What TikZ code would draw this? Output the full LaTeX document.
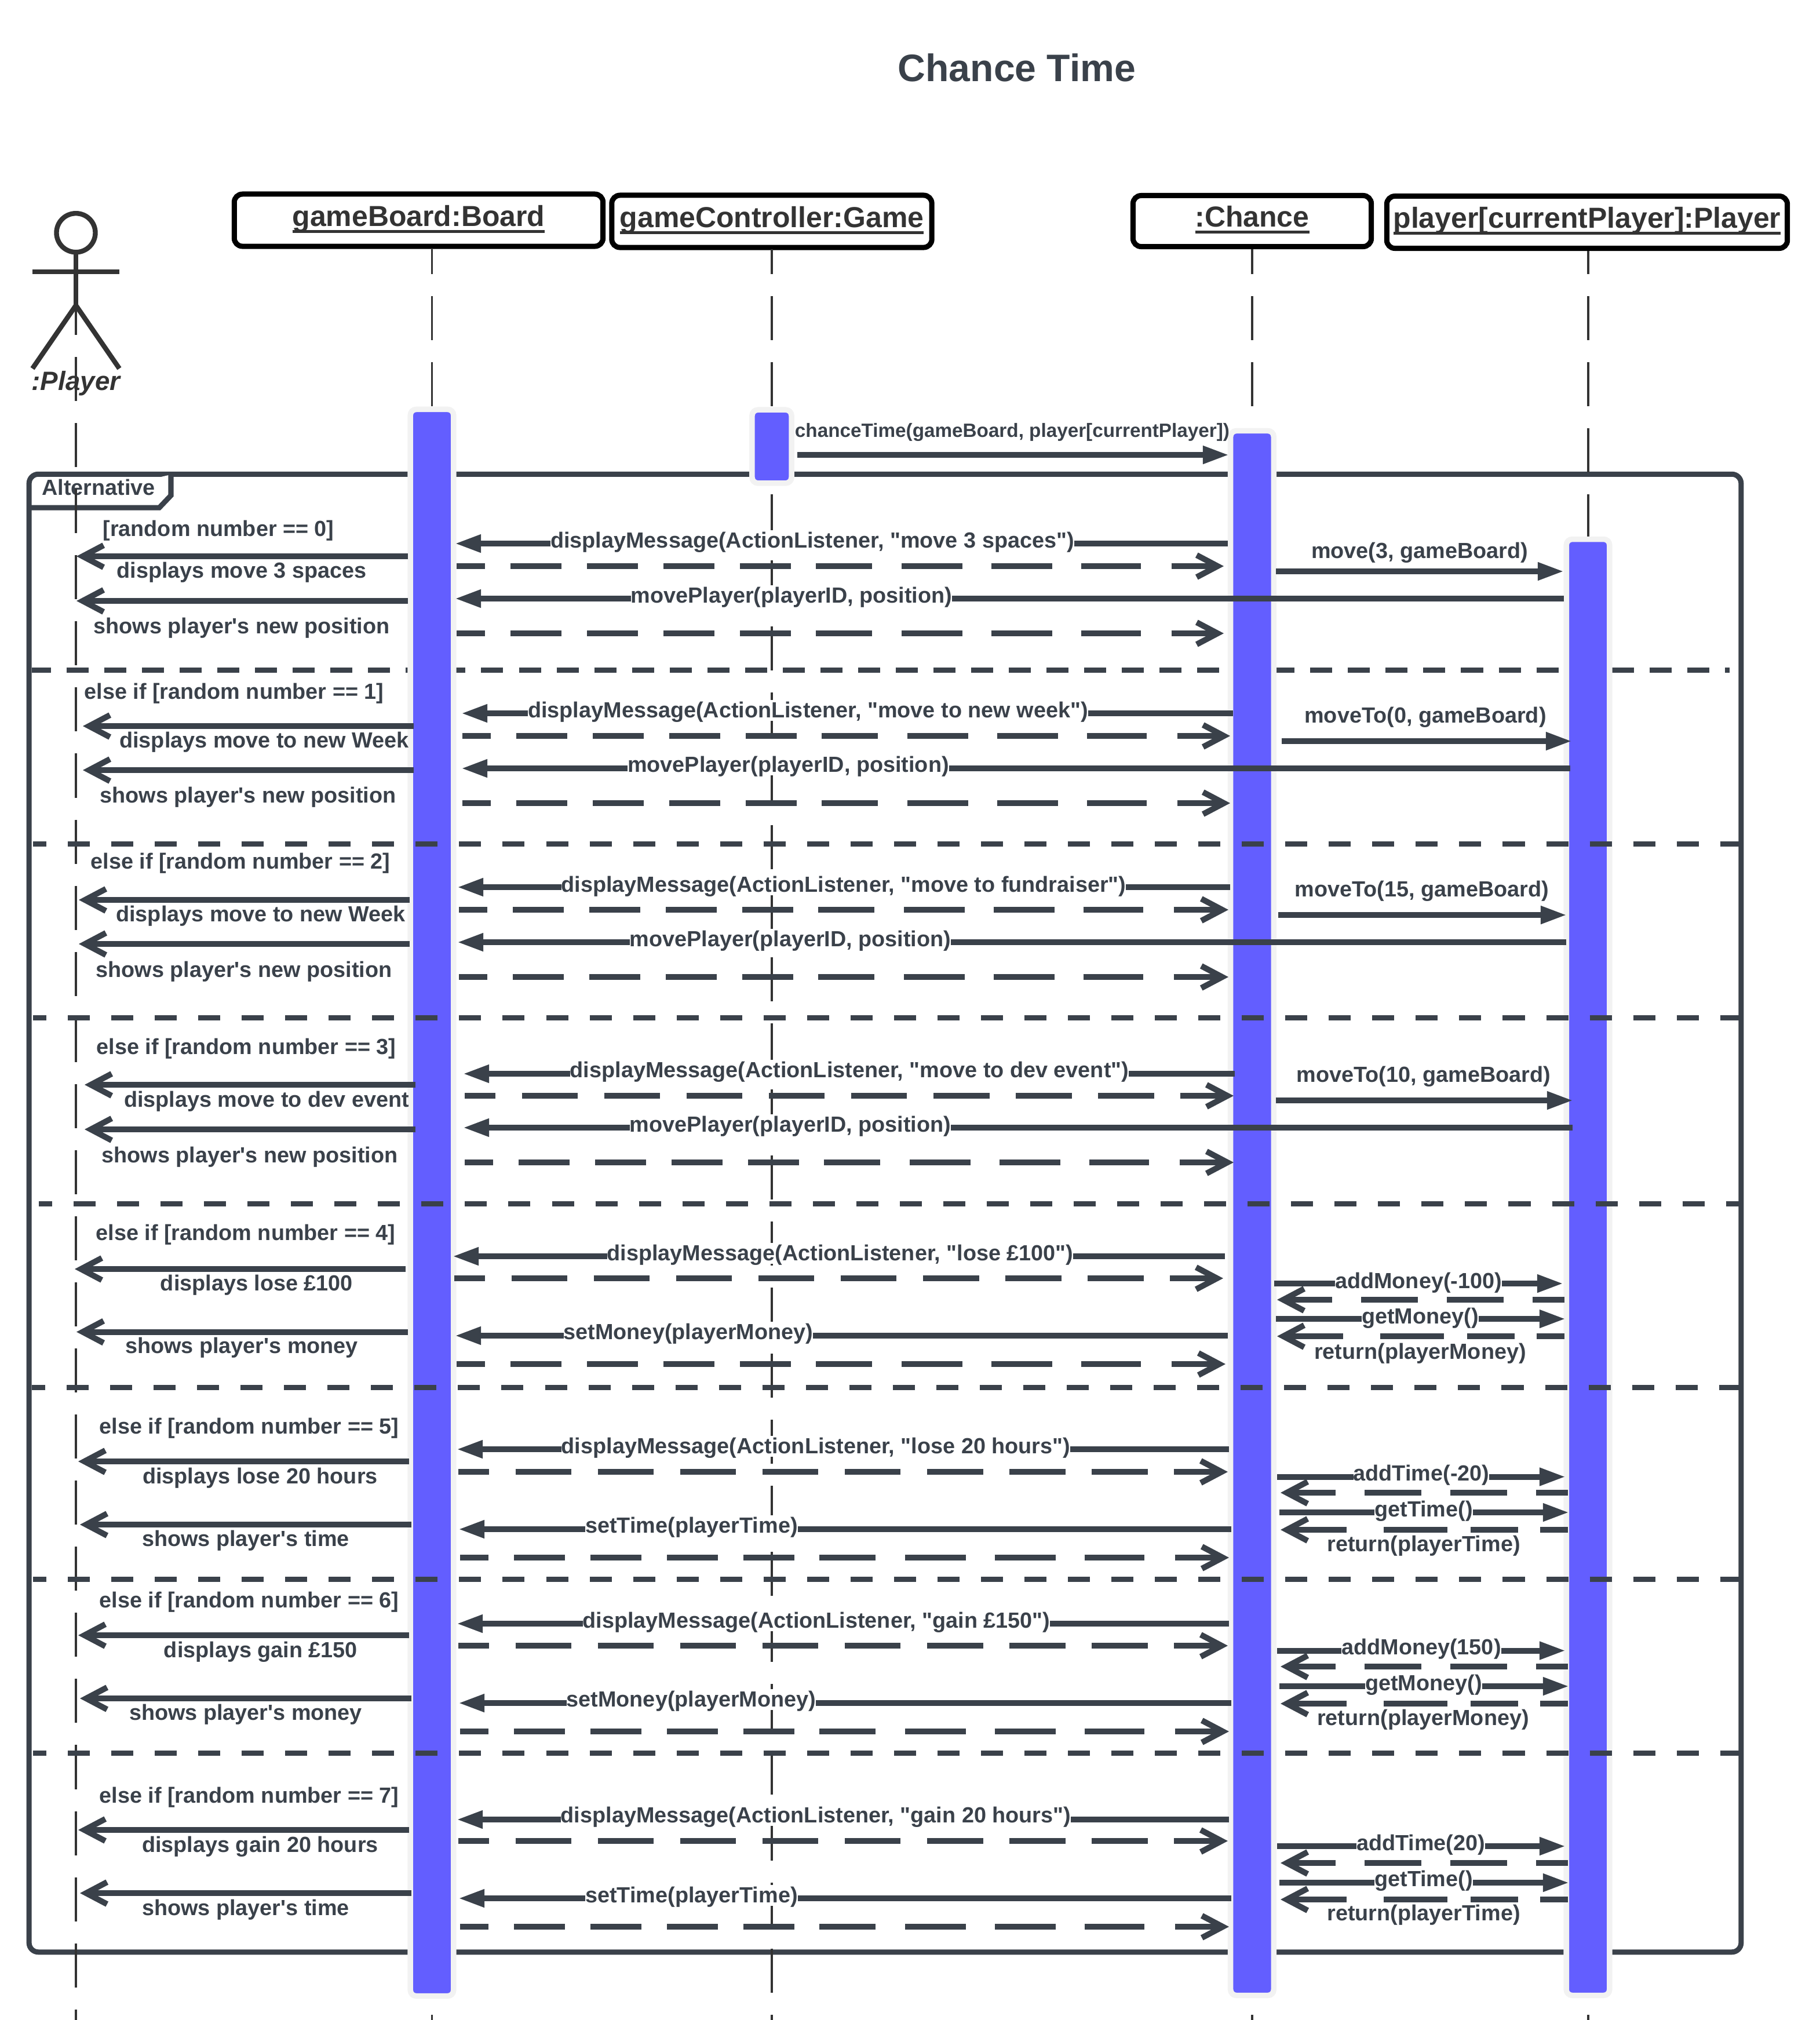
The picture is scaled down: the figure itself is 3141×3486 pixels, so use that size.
\documentclass[tikz,border=0pt]{standalone}
\usepackage{fontspec}
\setmainfont{Liberation Sans}[Ligatures=TeXOff]
\usepackage{xcolor}
\usetikzlibrary{arrows.meta,positioning}

\definecolor{msgdark}{HTML}{3A414A}
\definecolor{objdark}{HTML}{333333}
\definecolor{barblue}{HTML}{635EFF}
\definecolor{barhalo}{HTML}{F2F2F2}

\newcommand{\ulname}[1]{\setbox0\hbox{#1}\rlap{\rule[-3.26pt]{\wd0}{1.4pt}}\box0}

\begin{document}
\begin{tikzpicture}[
  x=0.01cm, y=-0.01cm,
  objbox/.style={rectangle, draw=black, fill=white, line width=.09cm, rounded corners=.14cm, minimum height=.88cm, inner sep=0pt,
    text=objdark, font=\bfseries\fontsize{14.2}{16}\selectfont, text height=11.3pt, text depth=5.6pt},
  lifeln/.style={draw=objdark, line width=1pt, dash pattern=on .76cm off .38cm},
  actbar/.style={rectangle, draw=barhalo, fill=barblue, line width=.095cm, rounded corners=.1cm, minimum width=.745cm, inner sep=0pt},
  frameln/.style={draw=msgdark, line width=.09cm},
  sepline/.style={draw=msgdark, line width=.09cm, dash pattern=on .38cm off .37cm, dash phase=.15cm},
  msgtext/.style={text=msgdark, font=\bfseries\fontsize{10.75}{12}\selectfont, inner sep=0pt, text height=8.6pt, text depth=1.7pt},
  calltext/.style={msgtext, fill=white},
  callarrow/.style={draw=msgdark, line width=.1cm, shorten >=-.03cm, -{Triangle[length=.45cm,width=.29cm]}},
  openarrow/.style={draw=msgdark, line width=.1cm, -{Straight Barb[length=.36cm,width=.38cm]}},
  retA/.style={openarrow, dash pattern=on .49cm off .44cm on .88cm off .44cm on .88cm off .44cm on .88cm off .44cm on .88cm off .43cm on .97cm off .51cm on 1.04cm off .5cm on 1.05cm off .5cm on 1.03cm off .53cm on 2cm off .5cm},
  retB/.style={openarrow, dash pattern=on .965cm off .455cm, dash phase=.435cm},
  retC/.style={openarrow, dash pattern=on .55cm off .5cm on .98cm off .5cm on .98cm off .5cm on 2cm off .5cm},
  retD/.style={openarrow, dash pattern=on .48cm off .38cm on .82cm off .4cm on 1.1cm off .64cm on 2cm off .5cm}
]
\useasboundingbox (0,0) rectangle (3141,3486);

\node[msgtext, font=\bfseries\fontsize{18.8}{22}\selectfont, text height=14pt, text depth=4pt] (title) at (1755,122.5) {Chance Time};

% object boxes
\node[objbox, minimum width=6.36cm, minimum height=.9cm] (board) at (722.5,380) {\ulname{gameBoard:Board}};
\node[objbox, minimum width=5.52cm, minimum height=.9cm] (game) at (1332,382) {\ulname{gameController:Game}};
\node[objbox, minimum width=4.11cm] (chance) at (2161,381.5) {\ulname{:Chance}};
\node[objbox, minimum width=6.91cm, minimum height=.9cm] (player) at (2739,383.5) {\ulname{player[currentPlayer]:Player}};

% actor
\node[circle, draw=objdark, fill=white, line width=.084cm, minimum size=.67cm, inner sep=0pt] (head) at (131,401.7) {};
\coordinate (hip) at (131,527);
\coordinate (handl) at (56,469);
\coordinate (handr) at (206,469);
\coordinate (footl) at (56,636);
\coordinate (footr) at (206,636);
\draw[draw=objdark, line width=.084cm] (head) -- (hip);
\draw[draw=objdark, line width=.084cm] (handl) -- (handr);
\draw[draw=objdark, line width=.084cm] (footl) -- (hip) -- (footr);
\node[text=objdark, font=\bfseries\itshape\fontsize{13}{15}\selectfont, inner sep=0pt] (actorname) at (131,662) {:Player};

% frame
\node[rectangle, frameln, rounded corners=.16cm, minimum width=29.53cm, minimum height=25.49cm, inner sep=0pt] (alt) at (1527.5,2093.5) {};
\draw[frameln, fill=white] (51,876) -- (275,876) -- (295,855) -- (295,819);
\node[msgtext] (alttext) at (170,842) {Alternative};

% lifelines
\coordinate (actortop) at (131,502);
\coordinate (actorend) at (131,3486);
\coordinate (boardend) at (745.5,3486);
\coordinate (boardtop) at (745.5,430);
\coordinate (gameend) at (1332,3486);
\coordinate (gametop) at (1332,430);
\coordinate (chanceend) at (2161,3486);
\coordinate (chancetop) at (2161,430);
\coordinate (playerend) at (2741,3486);
\coordinate (playertop) at (2741,433);
\draw[lifeln] (actortop) -- (actorend);
\draw[lifeln, dash phase=.33cm] (boardtop) -- (boardend);
\draw[lifeln, dash phase=.33cm] (gametop) -- (gameend);
\draw[lifeln, dash phase=.33cm] (chancetop) -- (chanceend);
\draw[lifeln, dash phase=.36cm] (playertop) -- (playerend);

% first separator goes under the bars
\coordinate (sep0l) at (55,1156);
\coordinate (sep0r) at (2985,1156);
\draw[sepline, dash pattern=on .38cm off .27cm, dash phase=.05cm] (sep0l) -- (sep0r);

% activation bars
\node[actbar, minimum height=27.365cm] (boardbar) at (745.5,2075.5) {};
\node[actbar, minimum width=.68cm, minimum height=1.265cm] (gamebar) at (1332,770.5) {};
\node[actbar, minimum height=26.985cm] (chancebar) at (2161,2093.5) {};
\node[actbar, minimum height=25.115cm] (playerbar) at (2740.5,2187) {};

% remaining separators
\foreach \n/\xs/\y in {1/57/1456, 2/57/1756, 3/67/2077, 4/55/2394, 5/57/2725, 6/57/3025} {
  \coordinate (sep\n l) at (\xs,\y);
  \coordinate (sep\n r) at (3005,\y);
  \draw[sepline] (sep\n l) -- (sep\n r);
}

% entry message
\coordinate (entrya) at (1376,785);
\coordinate (entryb) at (2118,785);
\draw[callarrow] (entrya) -- (entryb);
\node[msgtext, font=\bfseries\fontsize{9.46}{11}\selectfont] (entrytext) at (1747,742) {chanceTime(gameBoard, player[currentPlayer])};

% calls between the bars
\foreach \nm/\xa/\xb/\y/\xl/\yl/\txt in {
  disp0/2119/788/938/1402/933/{displayMessage(ActionListener, "move 3 spaces")},
  mvp0/2699/788/1033/1366/1028/{movePlayer(playerID, position)},
  move0/2202/2696/986/2450/951/{move(3, gameBoard)},
  disp1/2128/799/1231/1394.5/1226/{displayMessage(ActionListener, "move to new week")},
  mvp1/2710/799/1326/1360.5/1320/{movePlayer(playerID, position)},
  move1/2212/2710/1279/2460/1235/{moveTo(0, gameBoard)},
  disp2/2123/792/1531/1456/1527/{displayMessage(ActionListener, "move to fundraiser")},
  mvp2/2703/792/1626/1364/1621/{movePlayer(playerID, position)},
  move2/2206/2701/1579/2454/1535/{moveTo(15, gameBoard)},
  disp3/2131/802/1853/1466/1847/{displayMessage(ActionListener, "move to dev event")},
  mvp3/2714/802/1946/1364/1941/{movePlayer(playerID, position)},
  move3/2202/2712/1899/2457/1855/{moveTo(10, gameBoard)},
  disp4/2114/784/2168/1450/2163/{displayMessage(ActionListener, "lose £100")},
  setm4/2119/788/2305/1188/2299/{setMoney(playerMoney)},
  add4/2199/2695/2215/2448/2211/{addMoney(-100)},
  get4/2202/2699/2276/2451/2272/{getMoney()},
  disp5/2121/791/2501/1408/2496/{displayMessage(ActionListener, "lose 20 hours")},
  sett5/2125/794/2639/1193.5/2633/{setTime(playerTime)},
  add5/2204/2699/2548.5/2453/2543/{addTime(-20)},
  get5/2208/2705/2610/2457/2605/{getTime()},
  disp6/2121/791/2802/1409/2797/{displayMessage(ActionListener, "gain £150")},
  setm6/2125/794/2939/1193/2933/{setMoney(playerMoney)},
  add6/2204/2699/2848.5/2453/2843/{addMoney(150)},
  get6/2208/2705/2910/2457/2905/{getMoney()},
  disp7/2121/791/3140/1408/3133/{displayMessage(ActionListener, "gain 20 hours")},
  sett7/2125/794/3276/1193.5/3271/{setTime(playerTime)},
  add7/2204/2699/3186/2452/3181/{addTime(20)},
  get7/2208/2705/3249/2457/3243/{getTime()}} {
  \coordinate (\nm a) at (\xa,\y);
  \coordinate (\nm b) at (\xb,\y);
  \draw[callarrow] (\nm a) -- (\nm b);
  \node[calltext] (\nm t) at (\xl,\yl) {\txt};
}

% messages to the actor
\foreach \nm/\xa/\xb/\y/\xl/\yl/\txt in {
  show0/704/132/960/417/985/{displays move 3 spaces},
  pos0/704/132/1037/417/1081/{shows player's new position},
  show1/714/143/1253/456/1278/{displays move to new Week},
  pos1/714/143/1329/428/1373/{shows player's new position},
  show2/707/136/1553/450/1578/{displays move to new Week},
  pos2/707/136/1629/421/1674/{shows player's new position},
  show3/717/146/1872/460/1898/{displays move to dev event},
  pos3/717/146/1949/431/1994/{shows player's new position},
  show4/700/129/2190/443/2215/{displays lose £100},
  pos4/704/132/2298.5/417/2323/{shows player's money},
  show5/706/135/2522/449/2548/{displays lose 20 hours},
  pos5/710/138/2631/424/2656/{shows player's time},
  show6/706/135/2822/450/2848/{displays gain £150},
  pos6/710/138/2931/424/2956/{shows player's money},
  show7/706/135/3158/449/3184/{displays gain 20 hours},
  pos7/710/138/3267/424/3293/{shows player's time}} {
  \coordinate (\nm a) at (\xa,\y);
  \coordinate (\nm b) at (\xb,\y);
  \draw[openarrow] (\nm a) -- (\nm b);
  \node[msgtext] (\nm t) at (\xl,\yl) {\txt};
}

% returns
\foreach \nm/\xa/\xb/\y/\sty in {
  ra0/788/2112/977/retA, rb0/788/2112/1093/retA,
  ra1/798/2123/1270/retA, rb1/798/2123/1386/retA,
  ra2/792/2120/1570/retA, rb2/792/2120/1686/retA,
  ra3/802/2129/1891/retB, rb3/802/2129/2006/retA,
  ra4/784/2111/2206/retB, rb4/788/2115/2354/retA,
  ra5/791/2119/2540/retB, rb5/794/2121/2688/retA,
  ra6/791/2119/2840/retB, rb6/794/2121/2988/retA,
  ra7/791/2119/3177/retB, rb7/794/2121/3325/retA,
  rc4/2700/2204/2243/retC, rd4/2700/2204/2306/retD,
  rc5/2706/2210/2576/retC, rd5/2706/2210/2640/retD,
  rc6/2706/2210/2876/retC, rd6/2706/2210/2940/retD,
  rc7/2706/2210/3215/retC, rd7/2706/2210/3278/retD} {
  \coordinate (\nm a) at (\xa,\y);
  \coordinate (\nm b) at (\xb,\y);
  \draw[\sty] (\nm a) -- (\nm b);
}

% guards and return texts
\foreach \nm/\x/\y/\txt in {
  guard0/377/913/{[random number == 0]},
  guard1/404/1194/{else if [random number == 1]},
  guard2/415/1487/{else if [random number == 2]},
  guard3/425/1807/{else if [random number == 3]},
  guard4/424/2128/{else if [random number == 4]},
  guard5/430/2462/{else if [random number == 5]},
  guard6/430/2762/{else if [random number == 6]},
  guard7/430/3099/{else if [random number == 7]},
  back4/2451/2333/{return(playerMoney)},
  back5/2457/2665/{return(playerTime)},
  back6/2456/2965/{return(playerMoney)},
  back7/2457/3302/{return(playerTime)}} {
  \node[msgtext] (\nm) at (\x,\y) {\txt};
}

\end{tikzpicture}
\end{document}
